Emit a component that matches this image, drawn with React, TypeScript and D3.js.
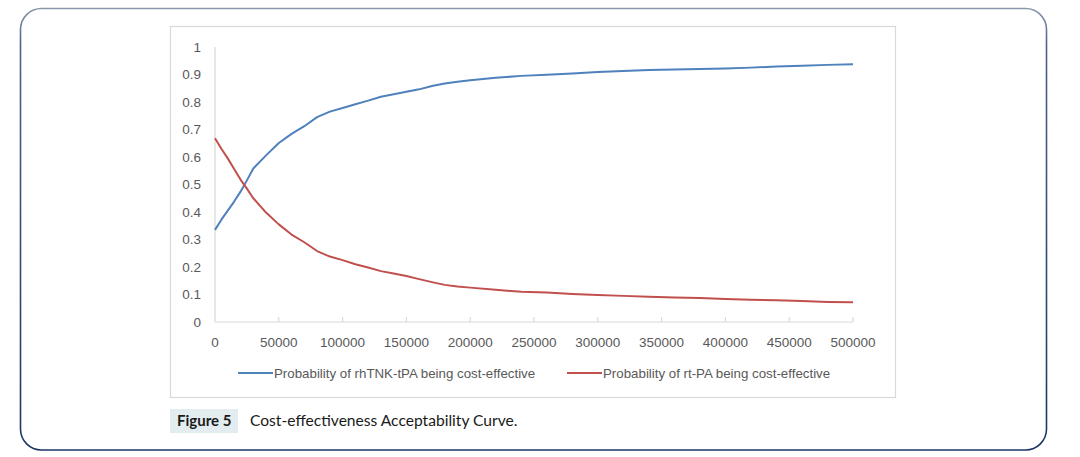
import * as d3 from 'd3';
import React, { useEffect } from 'react';

// willingness-to-pay thresholds
const wtp = [
  0, 5000, 10000, 15000, 20000, 25000, 30000, 40000, 50000, 60000, 70000,
  80000, 90000, 100000, 110000, 120000, 130000, 140000, 150000, 160000,
  170000, 180000, 190000, 200000, 220000, 240000, 260000, 280000, 300000,
  320000, 340000, 360000, 380000, 400000, 420000, 440000, 460000, 480000,
  500000,
];

const probRhTNK = [
  0.335, 0.372, 0.405, 0.438, 0.474, 0.515, 0.558, 0.606, 0.651, 0.684,
  0.712, 0.745, 0.765, 0.778, 0.792, 0.805, 0.819, 0.828, 0.837, 0.846,
  0.858, 0.867, 0.874, 0.879, 0.888, 0.895, 0.899, 0.904, 0.909, 0.913,
  0.916, 0.918, 0.92, 0.922, 0.925, 0.929, 0.932, 0.935, 0.937,
];

const probRtPA = [
  0.668, 0.63, 0.595, 0.556, 0.518, 0.485, 0.45, 0.398, 0.355, 0.318, 0.29,
  0.258, 0.238, 0.225, 0.21, 0.198, 0.185, 0.176, 0.167, 0.156, 0.145,
  0.135, 0.129, 0.125, 0.117, 0.11, 0.107, 0.102, 0.098, 0.095, 0.092,
  0.089, 0.087, 0.084, 0.081, 0.079, 0.076, 0.073, 0.072,
];

const xTicks = [0, 50000, 100000, 150000, 200000, 250000, 300000, 350000, 400000, 450000, 500000];
const yTicks = [0, 0.1, 0.2, 0.3, 0.4, 0.5, 0.6, 0.7, 0.8, 0.9, 1];

const seriesNames = [
  'Probability of rhTNK-tPA being cost-effective',
  'Probability of rt-PA being cost-effective',
];
const seriesColors = ['#4f81bd', '#c0504d'];

export default function App() {
  const ref = React.useRef<SVGSVGElement>(null);

  useEffect(() => {
    if (!ref.current) return;
    const svg = d3.select(ref.current);
    svg.selectAll('*').remove();

    const W = 1080;
    const H = 457;

    // outer rounded frame with a light top edge
    const defs = svg.append('defs');
    const grad = defs
      .append('linearGradient')
      .attr('id', 'frame')
      .attr('x1', 0)
      .attr('y1', 0)
      .attr('x2', 0)
      .attr('y2', 1);
    grad.append('stop').attr('offset', '0%').attr('stop-color', '#8a98ad');
    grad.append('stop').attr('offset', '8%').attr('stop-color', '#4a6388');
    grad.append('stop').attr('offset', '100%').attr('stop-color', '#1a3566');

    svg
      .append('rect')
      .attr('width', W)
      .attr('height', H)
      .attr('fill', '#fff');

    svg
      .append('rect')
      .attr('x', 20.5)
      .attr('y', 8.5)
      .attr('width', 1026)
      .attr('height', 441.5)
      .attr('rx', 21)
      .attr('fill', 'none')
      .attr('stroke', 'url(#frame)')
      .attr('stroke-width', 1.6);

    // chart box
    svg
      .append('rect')
      .attr('x', 170.5)
      .attr('y', 26.5)
      .attr('width', 725)
      .attr('height', 371)
      .attr('fill', '#fff')
      .attr('stroke', '#d9d9d9')
      .attr('stroke-width', 1.2);

    const x = d3.scaleLinear().domain([0, 500000]).range([215, 853]);
    const y = d3.scaleLinear().domain([0, 1]).range([322, 47]);

    const font = 'Liberation Sans, Arial, sans-serif';

    // y axis
    svg
      .append('line')
      .attr('x1', x(0))
      .attr('x2', x(0))
      .attr('y1', y(1))
      .attr('y2', y(0))
      .attr('stroke', '#d9d9d9')
      .attr('stroke-width', 1.2);

    svg
      .append('g')
      .selectAll('text')
      .data(yTicks)
      .enter()
      .append('text')
      .attr('x', 201)
      .attr('y', d => y(d))
      .attr('dy', '0.35em')
      .attr('text-anchor', 'end')
      .attr('font-family', font)
      .attr('font-size', 13.5)
      .attr('fill', '#595959')
      .text(d => d3.format('~g')(d));

    // x axis
    svg
      .append('line')
      .attr('x1', x(0))
      .attr('x2', x(500000))
      .attr('y1', y(0))
      .attr('y2', y(0))
      .attr('stroke', '#d9d9d9')
      .attr('stroke-width', 1.2);

    svg
      .append('g')
      .selectAll('line')
      .data(xTicks.slice(1))
      .enter()
      .append('line')
      .attr('x1', d => x(d))
      .attr('x2', d => x(d))
      .attr('y1', y(0))
      .attr('y2', y(0) - 5)
      .attr('stroke', '#d9d9d9')
      .attr('stroke-width', 1.2);

    svg
      .append('g')
      .selectAll('text')
      .data(xTicks)
      .enter()
      .append('text')
      .attr('x', d => x(d))
      .attr('y', 342)
      .attr('dy', '0.35em')
      .attr('text-anchor', 'middle')
      .attr('font-family', font)
      .attr('font-size', 13.5)
      .attr('fill', '#595959')
      .text(d => String(d));

    // curves
    const line = d3
      .line<number>()
      .x((_, i) => x(wtp[i]))
      .y(d => y(d));

    [probRhTNK, probRtPA].forEach((vals, i) => {
      svg
        .append('path')
        .datum(vals)
        .attr('fill', 'none')
        .attr('stroke', seriesColors[i])
        .attr('stroke-width', 2)
        .attr('stroke-linejoin', 'round')
        .attr('d', line);
    });

    // legend
    const legendX = [238, 567];
    seriesNames.forEach((name, i) => {
      const g = svg.append('g').attr('transform', `translate(${legendX[i]},373)`);
      g.append('line')
        .attr('x1', 0)
        .attr('x2', 35)
        .attr('y1', 0)
        .attr('y2', 0)
        .attr('stroke', seriesColors[i])
        .attr('stroke-width', 2);
      g.append('text')
        .attr('x', 36)
        .attr('y', 0)
        .attr('dy', '0.35em')
        .attr('font-family', font)
        .attr('font-size', 13.3)
        .attr('fill', '#595959')
        .text(name);
    });

    // caption
    svg
      .append('rect')
      .attr('x', 170)
      .attr('y', 409)
      .attr('width', 68)
      .attr('height', 24)
      .attr('fill', '#e3edf0');

    svg
      .append('text')
      .attr('x', 177)
      .attr('y', 426)
      .attr('font-family', 'Lato, Open Sans, sans-serif')
      .attr('font-size', 15)
      .attr('font-weight', 'bold')
      .attr('fill', '#1a1a1a')
      .text('Figure 5');

    svg
      .append('text')
      .attr('x', 250)
      .attr('y', 426)
      .attr('font-family', 'Lato, Open Sans, sans-serif')
      .attr('font-size', 15.6)
      .attr('fill', '#1a1a1a')
      .text('Cost-effectiveness Acceptability Curve.');
  }, []);

  return (
    <svg
      ref={ref}
      width={1080}
      height={457}
      style={{ position: 'absolute', left: 0, top: 0 }}
    />
  );
}
